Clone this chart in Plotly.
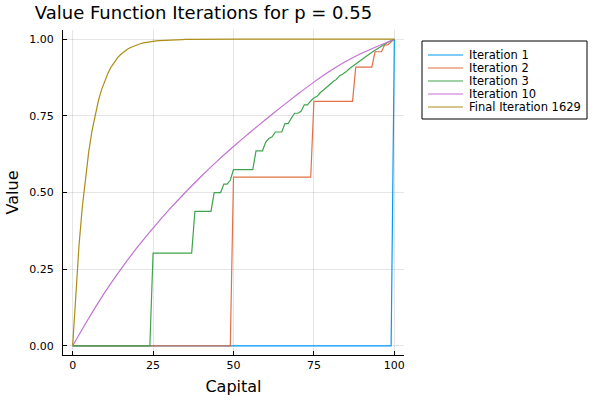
import plotly.graph_objects as go

capital = list(range(101))

iter1 = [0.0] * 100 + [1.0]

iter2 = [
    0, 0, 0, 0, 0, 0, 0, 0, 0, 0,
    0, 0, 0, 0, 0, 0, 0, 0, 0, 0,
    0, 0, 0, 0, 0, 0, 0, 0, 0, 0,
    0, 0, 0, 0, 0, 0, 0, 0, 0, 0,
    0, 0, 0, 0, 0, 0, 0, 0, 0, 0,
    0.55, 0.55, 0.55, 0.55, 0.55, 0.55, 0.55, 0.55, 0.55, 0.55,
    0.55, 0.55, 0.55, 0.55, 0.55, 0.55, 0.55, 0.55, 0.55, 0.55,
    0.55, 0.55, 0.55, 0.55, 0.55,
    0.7975, 0.7975, 0.7975, 0.7975, 0.7975, 0.7975, 0.7975, 0.7975, 0.7975, 0.7975,
    0.7975, 0.7975, 0.7975,
    0.9089, 0.9089, 0.9089, 0.9089, 0.9089, 0.9089,
    0.959, 0.959, 0.959,
    0.9815, 0.9815,
    0.9917,
    1.0,
]

iter3 = [
    0, 0, 0, 0, 0, 0, 0, 0, 0, 0,
    0, 0, 0, 0, 0, 0, 0, 0, 0, 0,
    0, 0, 0, 0, 0,
    0.3025, 0.3025, 0.3025, 0.3025, 0.3025, 0.3025, 0.3025, 0.3025, 0.3025, 0.3025,
    0.3025, 0.3025, 0.3025,
    0.4386, 0.4386, 0.4386, 0.4386, 0.4386, 0.4386,
    0.4999, 0.4999, 0.4999,
    0.5274, 0.5274,
    0.5399,
    0.5748,
    0.5748, 0.5748, 0.5748, 0.5748, 0.5748, 0.5748,
    0.6360, 0.6360, 0.6360,
    0.6636, 0.6760, 0.6816,
    0.6973, 0.6973, 0.6973,
    0.7248, 0.7248,
    0.7428,
    0.7585, 0.7585,
    0.7648,
    0.7861, 0.7861,
    0.7985,
    0.8086, 0.8137, 0.8261, 0.8341, 0.8440, 0.8536, 0.8617, 0.8688, 0.8812, 0.8868,
    0.8936, 0.9037, 0.9116, 0.9197, 0.9276, 0.9364, 0.9420, 0.9501, 0.9573, 0.9639,
    0.9714, 0.9775, 0.9837, 0.9899, 0.9954, 1.0,
]

capital_iter10 = [0, 5, 10, 15, 20, 25, 30, 35, 40, 45, 50,
                  55, 60, 65, 70, 75, 80, 85, 90, 95, 100]
iter10 = [0.0, 0.090, 0.174, 0.250, 0.320, 0.384, 0.444, 0.500, 0.553, 0.603, 0.650,
          0.695, 0.738, 0.780, 0.821, 0.860, 0.896, 0.928, 0.955, 0.978, 1.0]

final = [
    0.0, 0.1818, 0.3306, 0.4523, 0.5519, 0.6334, 0.7000, 0.7546, 0.7992, 0.8357,
    0.8656, 0.8900, 0.9100, 0.9264, 0.9398, 0.9507, 0.9597, 0.9670, 0.9730, 0.9779,
    0.9819, 0.9852, 0.9879, 0.9901, 0.9919, 0.9934, 0.9946, 0.9956, 0.9964, 0.9970,
    0.9976, 0.9980, 0.9984, 0.9987, 0.9989, 0.9991, 0.9993, 0.9994, 0.9995, 0.9996,
    0.9997, 0.9997, 0.9998, 0.9998, 0.9999, 0.9999, 0.9999, 0.9999, 0.9999, 0.9999,
    0.9999, 1.0, 1.0, 1.0, 1.0, 1.0, 1.0, 1.0, 1.0, 1.0,
    1.0, 1.0, 1.0, 1.0, 1.0, 1.0, 1.0, 1.0, 1.0, 1.0,
    1.0, 1.0, 1.0, 1.0, 1.0, 1.0, 1.0, 1.0, 1.0, 1.0,
    1.0, 1.0, 1.0, 1.0, 1.0, 1.0, 1.0, 1.0, 1.0, 1.0,
    1.0, 1.0, 1.0, 1.0, 1.0, 1.0, 1.0, 1.0, 1.0, 1.0,
    1.0,
]

series_names = ["Iteration 1", "Iteration 2", "Iteration 3", "Iteration 10",
                "Final Iteration 1629"]

x_ticks = [0, 25, 50, 75, 100]
y_ticks = [0.0, 0.25, 0.5, 0.75, 1.0]
y_tick_labels = ["0.00", "0.25", "0.50", "0.75", "1.00"]

colors = ["#009AFA", "#E36F47", "#3EA44E", "#C271D2", "#AC8E18"]
FONT = "DejaVu Sans"

W, H = 600, 400
ML, MR, MT, MB = 63, 196, 30, 45
PW, PH = W - ML - MR, H - MT - MB


def px_x(px):
    return (px - ML) / PW


def px_y(py):
    return (H - MB - py) / PH


fig = go.Figure()
xs = [capital, capital, capital, capital_iter10, capital]
ys = [iter1, iter2, iter3, iter10, final]
for i in range(5):
    fig.add_trace(go.Scatter(
        x=xs[i], y=ys[i], mode="lines", name=series_names[i], showlegend=False,
        line=dict(color=colors[i], width=1.2, shape="spline" if i == 3 else "linear",
                  smoothing=0.6 if i == 3 else None)))

axis_common = dict(
    showline=True, linecolor="black", linewidth=1, mirror=False,
    ticks="inside", ticklen=4, tickcolor="black", tickwidth=1,
    showgrid=True, gridcolor="rgba(0,0,0,0.1)", gridwidth=0.5,
    zeroline=False, tickfont=dict(family=FONT, size=11, color="black"),
)

# Legend drawn as a boxed key (compact spacing like the reference)
shapes = [dict(type="rect", xref="paper", yref="paper",
               x0=px_x(422), x1=px_x(587), y0=px_y(119), y1=px_y(41),
               line=dict(color="black", width=1), fillcolor="white", layer="above")]
annotations = []
for i, name in enumerate(series_names):
    row_y = 55 + 13 * i
    shapes.append(dict(type="line", xref="paper", yref="paper",
                       x0=px_x(428), x1=px_x(463), y0=px_y(row_y), y1=px_y(row_y),
                       line=dict(color=colors[i], width=1.2), layer="above"))
    annotations.append(dict(text=name, xref="paper", yref="paper",
                            x=px_x(468), y=px_y(row_y), xanchor="left", yanchor="middle",
                            showarrow=False, borderpad=0,
                            font=dict(family=FONT, size=11.5, color="black")))

fig.update_layout(
    width=W, height=H,
    plot_bgcolor="white", paper_bgcolor="white",
    margin=dict(l=ML, r=MR, t=MT, b=MB, autoexpand=False),
    font=dict(family=FONT, color="black"),
    title=dict(text="Value Function Iterations for p = 0.55", x=0.058, xanchor="left",
               y=0.968, yanchor="middle", font=dict(family=FONT, size=18, color="black")),
    xaxis=dict(range=[-3, 103], tickvals=x_ticks,
               title=dict(text="Capital", font=dict(family=FONT, size=16), standoff=9),
               **axis_common),
    yaxis=dict(range=[-0.03, 1.03], tickvals=y_ticks, ticktext=y_tick_labels,
               ticklabelstandoff=6,
               title=dict(text="Value", font=dict(family=FONT, size=16), standoff=6),
               **axis_common),
    shapes=shapes,
    annotations=annotations,
    showlegend=False,
)

fig.write_html("out.html", config={"displayModeBar": False},
               post_script="document.body.style.margin='0px';")
